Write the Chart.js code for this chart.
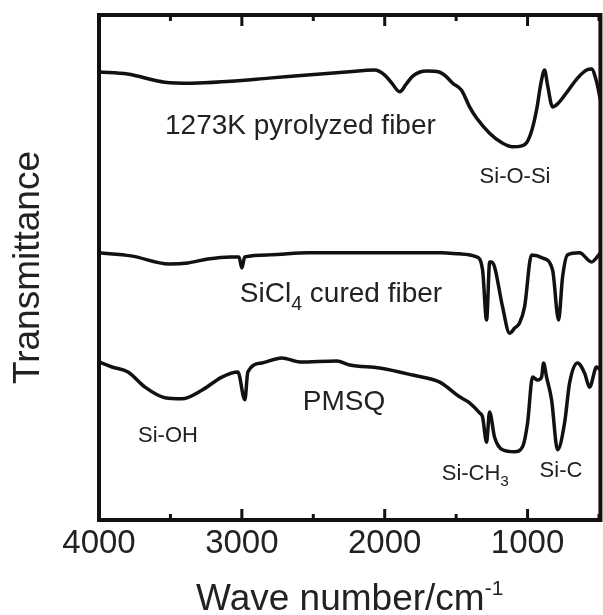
<!DOCTYPE html>
<html lang="en">
<head>
  <meta charset="UTF-8">
  <title>FT-IR spectra</title>
  <script src="https://cdn.jsdelivr.net/npm/chart.js"></script>
  <style>
    body { margin: 0; background: #fff; }
  </style>
</head>
<body>
  <canvas id="irChart" width="603" height="615"></canvas>

  <script>
    // wave numbers (cm-1) and transmittance (a.u.)
    const pyroWave = [4000, 3800, 3540, 3350, 3080, 2810, 2540, 2270, 2070, 2000, 1950, 1895, 1850, 1804, 1706, 1620, 1573, 1524, 1462, 1406,
      1357, 1266, 1180, 1105, 1040, 1007, 970, 937, 905, 881, 860, 825, 790, 727, 650, 587, 552, 520, 490];
    const pyroTrans = [88.7, 88.3, 86.7, 86.5, 86.9, 87.5, 88.1, 88.7, 89.1, 88.1, 86.5, 84.8, 86.3, 87.9, 88.9, 88.7, 87.9, 86.5, 85.1, 81.8,
      79.6, 76.6, 74.7, 73.9, 74.1, 74.7, 77.2, 81.2, 86.7, 89.1, 86.1, 81.8, 82.4, 84.6, 87.5, 89.1, 89.3, 87.1, 83.2];

    const curedWave = [4000, 3776, 3510, 3378, 3238, 3077, 3020, 3000, 2980, 2811, 2538, 2000, 1601, 1476, 1357, 1315, 1287, 1265, 1252, 1231,
      1175, 1126, 1090, 1056, 1021, 972, 895, 825, 783, 755, 720, 636, 552, 490];
    const curedTrans = [52.9, 52.3, 50.7, 50.9, 51.7, 52.1, 52.1, 49.9, 52.1, 52.5, 52.9, 52.9, 52.9, 52.7, 52.1, 49.5, 39.6, 51.1, 51.1, 50.1,
      42.2, 37.0, 38.0, 39.0, 42.2, 52.5, 51.9, 49.5, 39.6, 48.1, 52.5, 52.9, 51.1, 52.9];

    const pmsqWave = [4000, 3909, 3797, 3678, 3538, 3420, 3280, 3140, 3028, 2979, 2958, 2860, 2720, 2594, 2336, 2245, 2035, 1804, 1615, 1476,
      1406, 1336, 1315, 1287, 1266, 1231, 1175, 1091, 1035, 1000, 965, 930, 902, 888, 867, 832, 790, 741, 706, 650,
      601, 566, 517, 490];
    const pmsqTrans = [31.3, 30.3, 29.3, 26.3, 24.2, 24.0, 25.7, 28.3, 29.3, 23.8, 29.3, 31.1, 32.1, 31.3, 31.5, 30.7, 30.1, 28.7, 27.3, 24.4,
      23.2, 21.2, 20.4, 15.4, 21.4, 16.4, 13.9, 13.5, 14.5, 19.2, 28.3, 27.7, 28.3, 31.1, 28.3, 23.8, 13.9, 19.2, 27.1, 31.1,
      29.1, 26.3, 30.3, 29.7];

    const xTicks = [4000, 3500, 3000, 2500, 2000, 1500, 1000, 500];

    // text labels on the plot: [text, 0 normal / 1 subscript]
    const notes = [
      { parts: [['1273K pyrolyzed fiber', 0]], wave: 3538, t: 76.4, size: 28 },
      { parts: [['Si-O-Si', 0]], wave: 1336, t: 66.7, size: 22 },
      { parts: [['SiCl', 0], ['4', 1], [' cured fiber', 0]], wave: 3014, t: 43.2, size: 28 },
      { parts: [['PMSQ', 0]], wave: 2573, t: 21.8, size: 28 },
      { parts: [['Si-OH', 0]], wave: 3727, t: 15.4, size: 22 },
      { parts: [['Si-CH', 0], ['3', 1]], wave: 1601, t: 7.9, size: 22 },
      { parts: [['Si-C', 0]], wave: 916, t: 8.5, size: 22 }
    ];

    const family = '"Liberation Sans", Arial, sans-serif';
    const toPoints = (xs, ys) => xs.map((x, i) => ({ x: x, y: ys[i] }));

    // frame, inward ticks, labels and x title
    const decorPlugin = {
      id: 'decor',
      afterDatasetsDraw(chart) {
        const ctx = chart.ctx;
        const area = chart.chartArea;
        const xs = chart.scales.x;
        const ys = chart.scales.y;
        ctx.save();
        ctx.strokeStyle = '#111';
        ctx.lineWidth = 3;
        xTicks.forEach(v => {
          const px = xs.getPixelForValue(v);
          const len = v % 1000 === 0 ? 11 : 6;
          ctx.beginPath();
          ctx.moveTo(px, area.bottom);
          ctx.lineTo(px, area.bottom - len);
          ctx.moveTo(px, area.top);
          ctx.lineTo(px, area.top + len);
          ctx.stroke();
        });
        ctx.lineWidth = 4;
        ctx.strokeRect(area.left, area.top, area.right - area.left, area.bottom - area.top);

        ctx.fillStyle = '#222';
        ctx.textBaseline = 'alphabetic';
        ctx.textAlign = 'left';
        notes.forEach(n => {
          let x = xs.getPixelForValue(n.wave);
          const y = ys.getPixelForValue(n.t);
          n.parts.forEach(([txt, sub]) => {
            const fs = sub ? n.size * 0.7 : n.size;
            ctx.font = fs + 'px ' + family;
            ctx.fillText(txt, x, sub ? y + n.size * 0.28 : y);
            x += ctx.measureText(txt).width;
          });
        });

        // x axis title with superscript
        const main = 'Wave number/cm';
        const sup = '-1';
        ctx.font = '37px ' + family;
        const w1 = ctx.measureText(main).width;
        ctx.font = '21px ' + family;
        const w2 = ctx.measureText(sup).width;
        const x0 = (area.left + area.right) / 2 - (w1 + w2) / 2;
        const base = chart.height - 5;
        ctx.font = '37px ' + family;
        ctx.fillText(main, x0, base);
        ctx.font = '21px ' + family;
        ctx.fillText(sup, x0 + w1, base - 15);
        ctx.restore();
      }
    };

    const lineStyle = {
      borderColor: '#111',
      borderWidth: 3.5,
      pointRadius: 0,
      cubicInterpolationMode: 'monotone',
      fill: false
    };

    new Chart(document.getElementById('irChart').getContext('2d'), {
      type: 'line',
      data: {
        datasets: [
          Object.assign({ label: '1273K pyrolyzed fiber', data: toPoints(pyroWave, pyroTrans) }, lineStyle),
          Object.assign({ label: 'SiCl4 cured fiber', data: toPoints(curedWave, curedTrans) }, lineStyle),
          Object.assign({ label: 'PMSQ', data: toPoints(pmsqWave, pmsqTrans) }, lineStyle)
        ]
      },
      options: {
        responsive: false,
        animation: false,
        layout: { padding: { top: 15, right: 2, left: 0, bottom: 0 } },
        plugins: {
          legend: { display: false },
          tooltip: { enabled: false }
        },
        scales: {
          x: {
            type: 'linear',
            reverse: true,
            min: 490,
            max: 4000,
            afterBuildTicks: s => { s.ticks = xTicks.map(v => ({ value: v })); },
            afterFit: s => { s.height = 95; },
            grid: { display: false, drawTicks: false },
            border: { display: false },
            ticks: {
              font: { size: 33, family: family },
              color: '#222',
              padding: 4,
              maxRotation: 0,
              autoSkip: false,
              callback: v => v % 1000 === 0 ? String(v) : ''
            }
          },
          y: {
            min: 0,
            max: 100,
            afterFit: s => { s.width = 99; },
            grid: { display: false },
            border: { display: false },
            ticks: { display: false },
            title: {
              display: true,
              text: 'Transmittance',
              color: '#222',
              font: { size: 37, family: family },
              padding: { top: 7, bottom: 0 }
            }
          }
        }
      },
      plugins: [decorPlugin]
    });
  </script>
</body>
</html>
